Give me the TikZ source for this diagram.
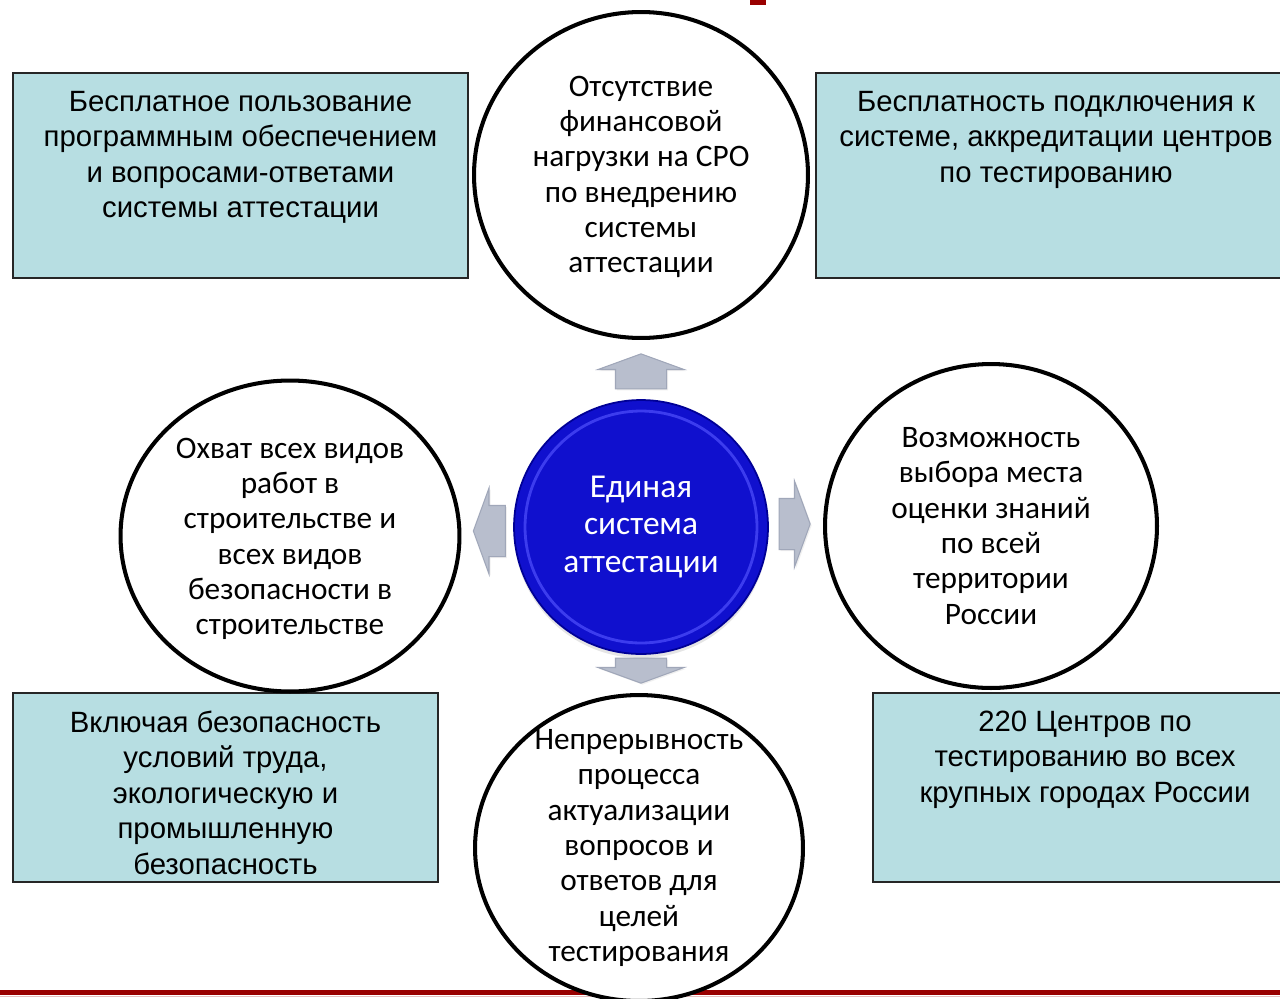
\documentclass[tikz,border=0pt]{standalone}
\usepackage{fontspec}
\setmainfont{Liberation Sans}
\newfontfamily\calibri{Carlito}
\usetikzlibrary{shapes.geometric, shapes.arrows, positioning, shadows}
\definecolor{celeste}{RGB}{183,222,226}
\definecolor{azulesa}{RGB}{16,16,206}
\definecolor{azulborde}{RGB}{0,0,150}
\definecolor{azulclaro}{RGB}{60,60,238}
\definecolor{grisflecha}{RGB}{184,190,205}
\definecolor{grisborde}{RGB}{160,167,185}
\definecolor{rojo}{RGB}{153,0,0}
\tikzstyle{caja}=[rectangle, draw=black!85, line width=0.7pt, fill=celeste, inner sep=0pt]
\tikzstyle{textocaja}=[align=center, inner sep=0pt, font=\fontsize{16.7}{20.2}\selectfont]
\tikzstyle{anillo}=[ellipse, draw=black, line width=2.3pt, fill=white, inner sep=0pt]
\tikzstyle{textoanillo}=[align=center, inner sep=0pt, font=\calibri\fontsize{17.8}{20.1}\selectfont]
\tikzstyle{flecha}=[single arrow, draw=grisborde, fill=grisflecha, line width=0.6pt, inner xsep=0pt, inner ysep=0.5cm,
    single arrow tip angle=140, single arrow head extend=0.35cm,
    drop shadow={opacity=0.12, shadow xshift=0.03cm, shadow yshift=-0.03cm}]

\begin{document}
\begin{tikzpicture}[x=0.02cm, y=-0.02cm]
    \clip (0,0) rectangle (1280,998);
    \fill[white] (0,0) rectangle (1280,998);

    % Lineas rojas
    \fill[rojo] (750,0) rectangle (766,5);
    \draw[rojo, line width=2.85pt] (0,992.5) -- (1280,992.5);
    \draw[rojo!25, line width=1pt] (0,996.5) -- (1280,996.5);

    % Cajas
    \node[caja, minimum width=9.1cm, minimum height=4.1cm] (ci) at (240.5,175.5) {};
    \node[textocaja, below=0.37cm of ci.north] {Бесплатное пользование\\программным обеспечением\\и вопросами-ответами\\системы аттестации};
    \node[caja, minimum width=9.6cm, minimum height=4.1cm] (cd) at (1056,175.5) {};
    \node[textocaja, below=0.37cm of cd.north] {Бесплатность подключения к\\системе, аккредитации центров\\по тестированию};
    \node[caja, minimum width=8.5cm, minimum height=3.78cm] (bi) at (225.5,787.5) {};
    \node[textocaja, below=0.36cm of bi.north] {Включая безопасность\\условий труда,\\экологическую и\\промышленную\\безопасность};
    \node[caja, minimum width=8.48cm, minimum height=3.78cm] (bd) at (1085,787.5) {};
    \node[textocaja, below=0.36cm of bd.north] {220 Центров по\\тестированию во всех\\крупных городах России};

    % Circulos
    \node[anillo, minimum width=6.68cm, minimum height=6.52cm,
        label={[textoanillo, yshift=-0.04cm]center:{Отсутствие\\финансовой\\нагрузки на СРО\\по внедрению\\системы\\аттестации}}] (arriba) at (641,175) {};
    \node[anillo, minimum width=6.78cm, minimum height=6.22cm,
        label={[textoanillo, yshift=-0.06cm]center:{Охват всех видов\\работ в\\строительстве и\\всех видов\\безопасности в\\строительстве}}] (izq) at (290,536) {};
    \node[anillo, minimum width=6.64cm, minimum height=6.48cm,
        label={[textoanillo]center:{Возможность\\выбора места\\оценки знаний\\по всей\\территории\\России}}] (der) at (991,526) {};
    \node[anillo, minimum width=6.56cm, minimum height=6.12cm,
        label={[textoanillo]center:{Непрерывность\\процесса\\актуализации\\вопросов и\\ответов для\\целей\\тестирования}}] (abajo) at (639,848) {};

    % Circulo central
    \node[circle, fill=azulesa, draw=azulborde, line width=1pt, minimum size=5.08cm, inner sep=0pt,
        drop shadow={opacity=0.2, shadow xshift=0cm, shadow yshift=-0.08cm}] (centro) at (641,527) {};
    \draw[azulclaro, line width=1.6pt] (centro.center) circle[radius=2.32cm];
    \node[text=white, align=center, inner sep=0pt, font=\calibri\fontsize{19}{21.3}\selectfont] at (centro.center) {Единая\\система\\аттестации};

    % Flechas
    \node[flecha, rotate=90, minimum height=0.7cm, minimum width=1.7cm] (fa) at (centro.north |- 0,376) {};
    \node[flecha, rotate=-90, minimum height=0.5cm, minimum width=1.7cm] (fb) at (centro.south |- 0,666) {};
    \node[flecha, rotate=180, minimum height=0.64cm, minimum width=1.64cm] (fi) at (494,531) {};
    \node[flecha, minimum height=0.62cm, minimum width=1.64cm] (fd) at (790,524) {};
\end{tikzpicture}
\end{document}
